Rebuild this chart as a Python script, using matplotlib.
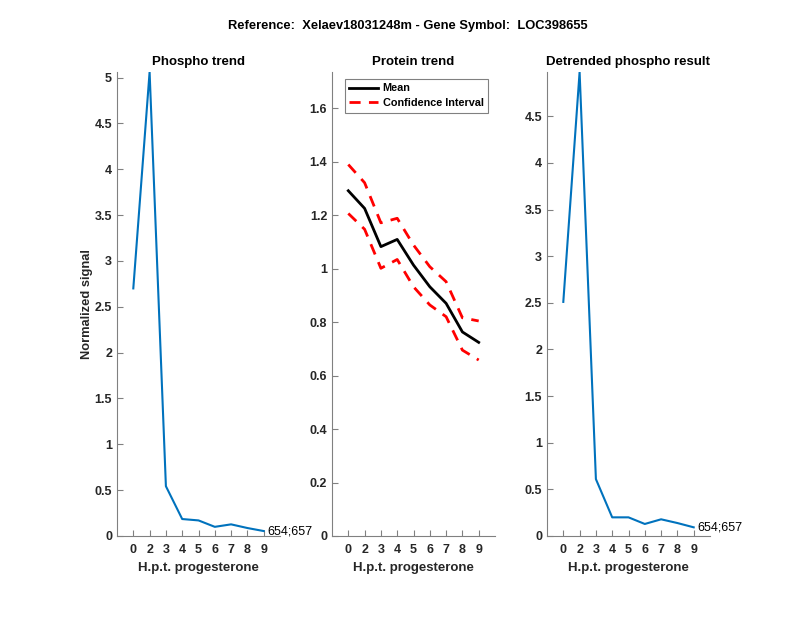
import matplotlib
matplotlib.use("Agg")
import matplotlib.pyplot as plt

plt.rcParams["font.family"] = ["Liberation Sans", "DejaVu Sans"]

# data
x_pos = [1, 2, 3, 4, 5, 6, 7, 8, 9]
x_labels = ["0", "2", "3", "4", "5", "6", "7", "8", "9"]

phospho = [2.70, 5.06, 0.543, 0.185, 0.170, 0.100, 0.127, 0.087, 0.054]
protein_mean = [1.291, 1.225, 1.082, 1.109, 1.013, 0.932, 0.870, 0.763, 0.724]
protein_upper = [1.389, 1.321, 1.171, 1.188, 1.088, 1.007, 0.951, 0.816, 0.804]
protein_lower = [1.206, 1.147, 1.001, 1.034, 0.932, 0.864, 0.820, 0.695, 0.658]
detrended = [2.51, 4.975, 0.61, 0.20, 0.20, 0.129, 0.179, 0.139, 0.093]
site_label = "654;657"

blue = "#0072BD"
axcol = "#262626"

fig = plt.figure(figsize=(8, 6.18), dpi=100)
fig.suptitle("Reference:  Xelaev18031248m - Gene Symbol:  LOC398655",
             fontsize=9.3, fontweight="bold", x=0.51, y=0.968)

bottom = (618 - 536) / 618
height = (536 - 72) / 618
lefts = [117 / 800, 332 / 800, 547 / 800]
width = 163 / 800

axes = [fig.add_axes([l, bottom, width, height]) for l in lefts]


def style(ax):
    for s in ["top", "right"]:
        ax.spines[s].set_visible(False)
    for s in ["left", "bottom"]:
        ax.spines[s].set_color("#808080")
        ax.spines[s].set_linewidth(0.8)
    ax.tick_params(direction="in", length=4, color="#808080",
                   labelcolor=axcol, labelsize=9)
    ax.tick_params(axis="x", pad=5.5)
    for lab in ax.get_xticklabels() + ax.get_yticklabels():
        lab.set_fontweight("bold")
    ax.set_xlim(0, 10)
    ax.set_xticks(x_pos)
    ax.set_xticklabels(x_labels, fontweight="bold")
    ax.set_xlabel("H.p.t. progesterone", fontsize=9.5, fontweight="bold",
                  color=axcol, labelpad=4.5)


# Phospho trend
ax = axes[0]
ax.plot(x_pos, phospho, color=blue, lw=1.5)
ax.set_ylim(0, max(phospho))
ax.set_yticks([0, 0.5, 1, 1.5, 2, 2.5, 3, 3.5, 4, 4.5, 5])
ax.set_yticklabels(["0", "0.5", "1", "1.5", "2", "2.5", "3", "3.5", "4", "4.5", "5"])
ax.text(9.25, phospho[-1], site_label, fontsize=9, va="center", ha="left")
ax.set_title("Phospho trend", fontsize=9.5, fontweight="bold", pad=5)
ax.set_ylabel("Normalized signal", fontsize=9.3, fontweight="bold",
              color=axcol, labelpad=1)
style(ax)

# Protein trend
ax = axes[1]
ax.plot(x_pos, protein_mean, color="black", lw=2, label="Mean")
ax.plot(x_pos, protein_upper, color="red", lw=2, ls=(0, (4, 3)),
        label="Confidence Interval")
ax.plot(x_pos, protein_lower, color="red", lw=2, ls=(0, (4, 3)))
ax.set_ylim(0, 1.735)
ax.set_yticks([0, 0.2, 0.4, 0.6, 0.8, 1.0, 1.2, 1.4, 1.6])
ax.set_yticklabels(["0", "0.2", "0.4", "0.6", "0.8", "1", "1.2", "1.4", "1.6"])
leg = ax.legend(loc="upper right", fontsize=7.8, frameon=True, fancybox=False,
                framealpha=1, borderaxespad=0.65, handlelength=2.7,
                handletextpad=0.4, borderpad=0.4, labelspacing=0.45)
leg.get_frame().set_edgecolor("#808080")
leg.get_frame().set_linewidth(0.8)
for t in leg.get_texts():
    t.set_fontweight("bold")
ax.set_title("Protein trend", fontsize=9.5, fontweight="bold", pad=5)
style(ax)

# Detrended phospho result
ax = axes[2]
ax.plot(x_pos, detrended, color=blue, lw=1.5)
ax.set_ylim(0, max(detrended))
ax.set_yticks([0, 0.5, 1, 1.5, 2, 2.5, 3, 3.5, 4, 4.5])
ax.set_yticklabels(["0", "0.5", "1", "1.5", "2", "2.5", "3", "3.5", "4", "4.5"])
ax.text(9.25, detrended[-1], site_label, fontsize=9, va="center", ha="left")
ax.set_title("Detrended phospho result", fontsize=9.5, fontweight="bold", pad=5)
style(ax)

fig.savefig("out.png", dpi=100)
